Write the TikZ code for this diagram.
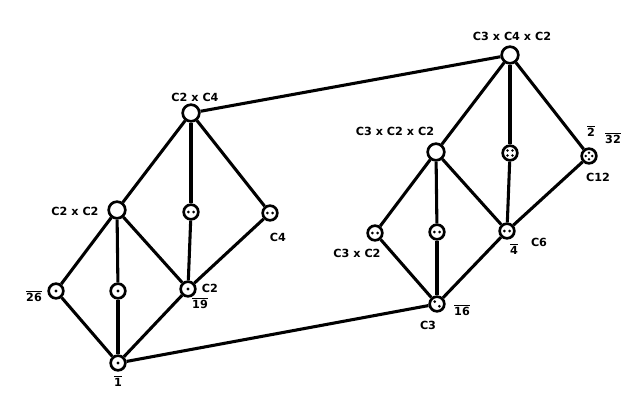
\documentclass[tikz,border=0pt]{standalone}
\usepackage{fontspec}
\setmainfont{DejaVu Sans}
\newcommand{\ob}[1]{$\overline{\mbox{#1}}$}
\begin{document}
\begin{tikzpicture}[x=0.75pt,y=-0.75pt,
  edge/.style={line width=2.3pt},
  bigv/.style={circle,draw,line width=2pt,minimum size=12.5pt,inner sep=0pt,fill=white},
  smv/.style={circle,draw,line width=2pt,minimum size=11pt,inner sep=0pt,fill=white},
  lbl/.style={font=\fontsize{8.4}{9}\selectfont\bfseries,inner sep=0pt}]
\useasboundingbox (0,0) rectangle (642,407);
% left lattice
\node[bigv] (L0) at (191,113) {};
\node[bigv] (L1) at (117,210) {};
\node[smv] (L2) at (191,212) {};
\node[smv] (L3) at (270,213) {};
\node[smv] (L4) at (56,291) {};
\node[smv] (L5) at (118,291) {};
\node[smv] (L6) at (188,289) {};
\node[smv] (L7) at (118,363) {};
% right lattice
\node[bigv] (R0) at (510,55) {};
\node[bigv] (R1) at (436,152) {};
\node[smv] (R2) at (510,153) {};
\node[smv] (R3) at (589,156) {};
\node[smv] (R4) at (375,233) {};
\node[smv] (R5) at (437,232) {};
\node[smv] (R6) at (507,231) {};
\node[smv] (R7) at (437,304) {};
\foreach \p in {L,R}{
  \draw[edge] (\p0) -- (\p1);
  \draw[edge] (\p0) -- (\p2);
  \draw[edge] (\p0) -- (\p3);
  \draw[edge] (\p1) -- (\p4);
  \draw[edge] (\p1) -- (\p5);
  \draw[edge] (\p1) -- (\p6);
  \draw[edge] (\p2) -- (\p6);
  \draw[edge] (\p3) -- (\p6);
  \draw[edge] (\p4) -- (\p7);
  \draw[edge] (\p5) -- (\p7);
  \draw[edge] (\p6) -- (\p7);
}
\draw[edge] (L0) -- (R0);
\draw[edge] (L7) -- (R7);
% dots
\foreach \n in {L4,L5,L6,L7}{ \fill (\n) circle (1.6); }
\foreach \n in {L2,L3,R4,R5,R6}{ \fill ([xshift=-2pt]\n.center) circle (1.5); \fill ([xshift=2pt]\n.center) circle (1.5); }
\fill ([shift={(-1.7pt,1.7pt)}]R7.center) circle (1.5);
\fill ([shift={(1.7pt,-1.7pt)}]R7.center) circle (1.5);
\foreach \dx/\dy in {-1.9/1.9,1.9/1.9,-1.9/-1.9,1.9/-1.9}{ \fill ([shift={(\dx pt,\dy pt)}]R2.center) circle (1.4); }
\foreach \dx/\dy in {0/2.4,0/-2.4,-2.4/0,2.4/0}{ \fill ([shift={(\dx pt,\dy pt)}]R3.center) circle (1.4); }
% labels
\node[lbl] (tL0) at (195,97) {C2 x C4};
\node[lbl] (tL1) at (75,211) {C2 x C2};
\node[lbl] (tL3) at (278,237) {C4};
\node[lbl] (tL6) at (210,288) {C2};
\node[lbl] (nL6) at (200,303) {\ob{19}};
\node[lbl] (nL4) at (34,296) {\ob{26}};
\node[lbl] (nL7) at (118,381) {\ob{1}};
\node[lbl] (tR0) at (512,36) {C3 x C4 x C2};
\node[lbl] (tR1) at (395,131) {C3 x C2 x C2};
\node[lbl] (nR3a) at (591,131) {\ob{2}};
\node[lbl] (nR3b) at (613,138) {\ob{32}};
\node[lbl] (tR3) at (598,177) {C12};
\node[lbl] (tR6) at (539,242) {C6};
\node[lbl] (nR6) at (514,249) {\ob{4}};
\node[lbl] (tR4) at (357,253) {C3 x C2};
\node[lbl] (tR7) at (428,325) {C3};
\node[lbl] (nR7) at (462,310) {\ob{16}};
\end{tikzpicture}
\end{document}
